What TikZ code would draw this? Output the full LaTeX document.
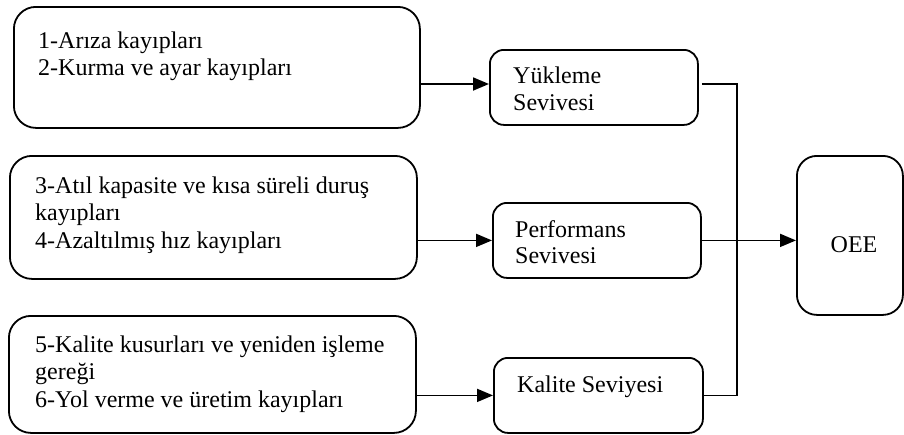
\documentclass[tikz,border=0pt]{standalone}
\usepackage{fontspec}
\setmainfont{Liberation Serif}
\usetikzlibrary{arrows.meta}
\tikzset{
  lbox/.style={draw, line width=1.8pt, rounded corners=22pt, inner sep=0pt, anchor=north west},
  mbox/.style={draw, line width=1.8pt, rounded corners=14pt, inner sep=0pt, anchor=north west},
  obox/.style={draw, line width=1.8pt, rounded corners=20pt, inner sep=0pt, anchor=north west},
  txt/.style={inner sep=0pt, anchor=base west, font=\fontsize{24}{27.5}\selectfont},
  arr/.style={line width=1.8pt, -{Triangle[length=16pt,width=13pt]}},
  conn/.style={line width=1.8pt}
}
\begin{document}
\begin{tikzpicture}[x=1pt,y=-1pt]
\useasboundingbox (0,0) rectangle (904,434);
% left boxes
\node[lbox, minimum width=406pt, minimum height=121pt] (b1) at (13,6) {};
\node[lbox, minimum width=407pt, minimum height=123pt] (b2) at (9,155) {};
\node[lbox, minimum width=407pt, minimum height=117pt] (b3) at (8,315) {};
% middle boxes
\node[mbox, minimum width=208pt, minimum height=75pt] (m1) at (489,49) {};
\node[mbox, minimum width=208pt, minimum height=75pt] (m2) at (492,202) {};
\node[mbox, minimum width=209pt, minimum height=75pt] (m3) at (493,357) {};
% OEE
\node[obox, minimum width=106pt, minimum height=159pt] (oee) at (796,155) {};
% texts
\node[txt] (t11) at (38,48) {1-Arıza kayıpları};
\node[txt] (t12) at (38,75.5) {2-Kurma ve ayar kayıpları};
\node[txt] (t21) at (35,193) {3-Atıl kapasite ve kısa süreli duruş};
\node[txt] (t22) at (35,220.5) {kayıpları};
\node[txt] (t23) at (35,248) {4-Azaltılmış hız kayıpları};
\node[txt] (t31) at (35,352) {5-Kalite kusurları ve yeniden işleme};
\node[txt] (t32) at (35,379.5) {gereği};
\node[txt] (t33) at (35,407) {6-Yol verme ve üretim kayıpları};
\node[txt] (tm11) at (513,83) {Yükleme};
\node[txt] (tm12) at (513,110) {Sevivesi};
\node[txt] (tm21) at (515,237) {Performans};
\node[txt] (tm22) at (515,263) {Sevivesi};
\node[txt] (tm31) at (517,392) {Kalite Seviyesi};
\node[txt, anchor=base] (toee) at (854,252) {OEE};
% connectors
\draw[arr] (b1.east |- 0,84) -- (m1.west |- 0,84);
\draw[arr] (b2.east |- m2.west) -- (m2.west);
\draw[arr] (b3.east |- m3.west) -- (m3.west);
\coordinate (j) at (737,240);
\draw[conn] ([xshift=3pt]m1.east |- 0,84) -| (j) |- (m3.east);
\draw[arr] (m2.east) -- (oee.west |- m2.east);
\end{tikzpicture}
\end{document}
